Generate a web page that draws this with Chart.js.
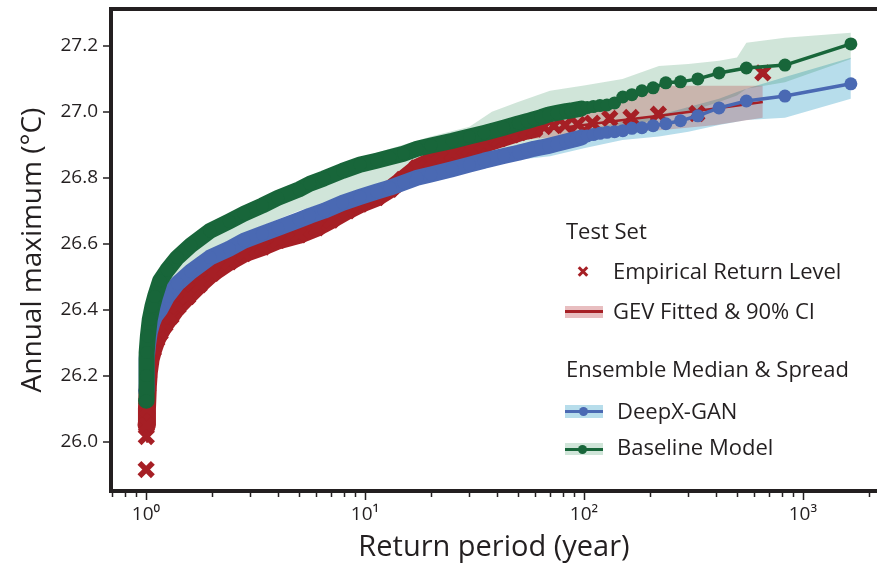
<!DOCTYPE html>
<html>
<head>
<meta charset="utf-8">
<script src="https://cdn.jsdelivr.net/npm/chart.js@4.4.1/dist/chart.umd.min.js"></script>
<style>
  html, body { margin: 0; padding: 0; background: #fff; }
  #wrap { position: relative; width: 877px; height: 570px; overflow: hidden; font-family: "Open Sans", sans-serif; color: #231f20; }
  #chart { position: absolute; left: 0; top: 0; }
  .lg { position: absolute; font-size: 22px; line-height: 22px; white-space: nowrap; }
  .band { position: absolute; left: 565px; width: 38px; }
  .stroke { position: absolute; left: 565px; width: 38px; height: 3px; }
  .dot { position: absolute; width: 9px; height: 9px; border-radius: 50%; }
  .cross { position: absolute; width: 12px; height: 3px; background: #a61f25; }
</style>
</head>
<body>
<div id="wrap">
  <canvas id="chart" width="877" height="570"></canvas>

  <div class="lg" style="left:566px; top:219px;">Test Set</div>
  <div class="cross" style="left:577px; top:270px; transform: rotate(45deg);"></div>
  <div class="cross" style="left:577px; top:270px; transform: rotate(-45deg);"></div>
  <div class="lg" style="left:613px; top:259px;">Empirical Return Level</div>
  <div class="band" style="top:306px; height:12px; background: rgba(180,40,45,0.3);"></div>
  <div class="stroke" style="top:310px; background:#a61f25;"></div>
  <div class="lg" style="left:613px; top:299px;">GEV Fitted &amp; 90% CI</div>

  <div class="lg" style="left:566px; top:357px;">Ensemble Median &amp; Spread</div>
  <div class="band" style="top:405px; height:13px; background: rgba(135,198,222,0.6);"></div>
  <div class="stroke" style="top:410px; background:#4a69b3;"></div>
  <div class="dot" style="left:579px; top:407px; background:#4a69b3;"></div>
  <div class="lg" style="left:617px; top:399px;">DeepX-GAN</div>
  <div class="band" style="top:443px; height:12px; background: rgba(20,125,65,0.2);"></div>
  <div class="stroke" style="top:448px; background:#18663a;"></div>
  <div class="dot" style="left:578px; top:445px; background:#18663a;"></div>
  <div class="lg" style="left:617px; top:435px;">Baseline Model</div>
</div>

<script>
// return periods (years) of the ensemble medians
const modelPeriods = [1.0006, 1.003, 1.01, 1.02, 1.04, 1.07, 1.1, 1.16, 1.25, 1.39, 1.6, 1.96, 2.4, 2.8, 3.4, 4, 5, 5.6, 6.5, 7.9,
  9.5, 11.3, 13, 15, 17.3, 20, 25, 30, 35, 43, 50.2, 55.2, 59.1, 63.7, 69, 75.3, 82.8, 87.2, 92, 97.4,
  103.5, 110.4, 118.3, 127.4, 138, 150.5, 165.6, 184, 207, 236.6, 276, 331.2, 414, 552, 828, 1656];
const baselineMedian = [26.124, 26.20, 26.27, 26.32, 26.37, 26.41, 26.44, 26.488, 26.52, 26.558, 26.595, 26.639, 26.668, 26.691, 26.716, 26.739, 26.765, 26.782, 26.798, 26.821,
  26.840, 26.852, 26.862, 26.873, 26.888, 26.898, 26.912, 26.925, 26.936, 26.952, 26.965, 26.972, 26.978, 26.984, 26.992, 26.997, 27.002, 27.004, 27.007, 27.010,
  27.013, 27.016, 27.019, 27.021, 27.027, 27.045, 27.052, 27.064, 27.073, 27.088, 27.091, 27.100, 27.118, 27.133, 27.142, 27.206];
const deepxMedian = [26.155, 26.20, 26.25, 26.29, 26.33, 26.36, 26.38, 26.40, 26.44, 26.479, 26.515, 26.558, 26.585, 26.609, 26.630, 26.648, 26.672, 26.685, 26.700, 26.724,
  26.742, 26.758, 26.770, 26.785, 26.800, 26.810, 26.826, 26.840, 26.852, 26.866, 26.876, 26.883, 26.888, 26.892, 26.897, 26.903, 26.910, 26.914, 26.918, 26.922,
  26.927, 26.931, 26.935, 26.938, 26.940, 26.943, 26.950, 26.952, 26.958, 26.964, 26.973, 26.988, 27.012, 27.033, 27.048, 27.085];

// ensemble spread
const spreadPeriods = [1.0006, 1.01, 1.03, 1.1, 1.3, 1.6, 2, 3, 5, 10, 20, 30, 38, 50, 70, 100, 150, 220, 300, 414, 500, 552, 828, 1656];
const baselineHigh = [26.14, 26.30, 26.37, 26.47, 26.555, 26.615, 26.66, 26.725, 26.785, 26.865, 26.925, 26.955, 27.0, 27.03, 27.064, 27.08, 27.10, 27.139, 27.145, 27.155, 27.165, 27.21, 27.225, 27.24];
const baselineLow = [26.10, 26.24, 26.31, 26.41, 26.48, 26.54, 26.58, 26.64, 26.70, 26.76, 26.80, 26.83, 26.85, 26.87, 26.90, 26.92, 26.95, 26.98, 27.00, 27.03, 27.05, 27.07, 27.09, 27.16];
const deepxHigh = [26.17, 26.27, 26.35, 26.41, 26.48, 26.535, 26.575, 26.635, 26.69, 26.765, 26.83, 26.86, 26.88, 26.90, 26.92, 26.945, 26.97, 26.99, 27.015, 27.04, 27.06, 27.07, 27.106, 27.164];
const deepxLow = [26.14, 26.23, 26.30, 26.35, 26.43, 26.49, 26.54, 26.60, 26.655, 26.725, 26.79, 26.82, 26.835, 26.855, 26.865, 26.89, 26.915, 26.925, 26.94, 26.96, 26.97, 26.975, 26.982, 27.04];

// test set: empirical return levels
const testPeriods = [1.0015, 1.0031, 1.005, 1.01, 1.02, 1.03, 1.05, 1.08, 1.12, 1.16, 1.22, 1.3, 1.4, 1.55, 1.75, 2, 2.4, 2.8, 3.4, 4,
  5, 6, 7, 8.3, 9.5, 11.3, 13, 14.9, 17.3, 20, 25, 30, 35, 41, 46.9, 50.5, 54.7, 59.6, 65.6, 72.9,
  82, 93.7, 109.3, 131.2, 164, 218.7, 328, 656];
const testEmpirical = [25.915, 26.015, 26.05, 26.10, 26.17, 26.21, 26.25, 26.28, 26.31, 26.33, 26.355, 26.38, 26.41, 26.44, 26.475, 26.51, 26.545, 26.57, 26.59, 26.61,
  26.627, 26.648, 26.672, 26.70, 26.72, 26.74, 26.765, 26.795, 26.83, 26.85, 26.875, 26.89, 26.903, 26.918, 26.93, 26.937, 26.943, 26.948, 26.955, 26.958,
  26.96, 26.962, 26.966, 26.98, 26.983, 26.993, 26.995, 27.118];

// GEV fit with 90% confidence interval
const gevPeriods = [1.0015, 1.01, 1.05, 1.2, 1.5, 2, 3, 5, 10, 20, 50, 100, 130, 230, 400, 656];
const gevFit = [26.00, 26.10, 26.25, 26.345, 26.43, 26.51, 26.58, 26.627, 26.73, 26.85, 26.935, 26.96, 26.97, 26.99, 27.01, 27.03];
const gevHigh = [26.01, 26.11, 26.26, 26.355, 26.44, 26.52, 26.59, 26.64, 26.745, 26.865, 26.955, 27.00, 27.018, 27.079, 27.079, 27.079];
const gevLow = [25.99, 26.09, 26.24, 26.335, 26.42, 26.50, 26.57, 26.615, 26.715, 26.835, 26.915, 26.93, 26.935, 26.945, 26.96, 26.982];

// axes
const yTicks = [26.0, 26.2, 26.4, 26.6, 26.8, 27.0, 27.2];
const xMajorTicks = [1, 10, 100, 1000];
const xTickLabels = ['10\u2070', '10\u00b9', '10\u00b2', '10\u00b3'];
const xMin = 0.692, xMax = 2180;
const yMin = 25.85, yMax = 27.312;

const ink = '#231f20';
const green = '#18663a', blue = '#4a69b3', red = '#a61f25';
const font = '"Open Sans", sans-serif';

// above these return periods the markers stop overlapping
const modelDenseUpTo = 100;
const testDenseUpTo = 60;

const xTickValues = [];
[0.1, 1, 10, 100, 1000].forEach(d => {
  for (let m = 1; m < 10; m++) {
    const v = +(m * d).toPrecision(3);
    if (v >= xMin && v <= xMax) xTickValues.push(v);
  }
});

function pairs(xs, ys) {
  return xs.map((x, i) => ({ x: x, y: ys[i] }));
}

function bandEdge(label, xs, ys, color, fill, order) {
  return {
    label: label, data: pairs(xs, ys), fill: fill, backgroundColor: color,
    borderWidth: 0, pointRadius: 0, order: order
  };
}

// axis frame and tick marks (major ticks longer than minor ones)
const axisFrame = {
  id: 'axisFrame',
  afterDraw(chart) {
    const { ctx, chartArea: a, scales: { x, y } } = chart;
    ctx.save();
    ctx.strokeStyle = ink;
    ctx.lineWidth = 1.5;
    ctx.beginPath();
    x.ticks.forEach(t => {
      const px = Math.round(x.getPixelForValue(t.value)) + 0.5;
      const len = t.major ? 7 : 4;
      ctx.moveTo(px, a.bottom);
      ctx.lineTo(px, a.bottom + 2 + len);
    });
    y.ticks.forEach(t => {
      const py = Math.round(y.getPixelForValue(t.value));
      ctx.moveTo(a.left, py);
      ctx.lineTo(a.left - 8, py);
    });
    ctx.stroke();

    // the right edge of the frame falls outside the figure
    ctx.lineWidth = 4;
    ctx.lineJoin = 'miter';
    ctx.beginPath();
    ctx.moveTo(chart.width + 4, a.top);
    ctx.lineTo(a.left, a.top);
    ctx.lineTo(a.left, a.bottom);
    ctx.lineTo(chart.width + 4, a.bottom);
    ctx.stroke();
    ctx.restore();
  }
};

new Chart('chart', {
  type: 'line',
  data: {
    datasets: [
      {
        label: 'Baseline Model',
        data: pairs(modelPeriods, baselineMedian),
        borderColor: green, backgroundColor: green,
        borderWidth: 3, borderCapStyle: 'round', borderJoinStyle: 'round',
        pointRadius: 6.5, pointBorderWidth: 0,
        segment: { borderWidth: ctx => ctx.p1.parsed.x <= modelDenseUpTo ? 16 : 3.5 },
        order: 1
      },
      {
        label: 'DeepX-GAN',
        data: pairs(modelPeriods, deepxMedian),
        borderColor: blue, backgroundColor: blue,
        borderWidth: 3, borderCapStyle: 'round', borderJoinStyle: 'round',
        pointRadius: 6.5, pointBorderWidth: 0,
        segment: { borderWidth: ctx => ctx.p1.parsed.x <= modelDenseUpTo ? 16 : 3.5 },
        order: 2
      },
      {
        label: 'Empirical Return Level',
        data: pairs(testPeriods, testEmpirical),
        borderColor: red, backgroundColor: red,
        borderWidth: 18, borderCapStyle: 'round', borderJoinStyle: 'round',
        pointStyle: 'crossRot', pointRadius: 9.5, pointBorderWidth: 5.5,
        segment: {
          borderColor: ctx => (ctx.p0DataIndex >= 2 && ctx.p1.parsed.x <= testDenseUpTo) ? red : 'rgba(0,0,0,0)'
        },
        order: 3
      },
      {
        label: 'GEV Fitted',
        data: pairs(gevPeriods, gevFit),
        borderColor: red, borderWidth: 2.5, pointRadius: 0,
        order: 4
      },
      bandEdge('GEV CI high', gevPeriods, gevHigh, 'rgba(180,40,45,0.25)', '+1', 5),
      bandEdge('GEV CI low', gevPeriods, gevLow, 'rgba(0,0,0,0)', false, 5),
      bandEdge('Baseline high', spreadPeriods, baselineHigh, 'rgba(20,125,65,0.2)', '+1', 6),
      bandEdge('Baseline low', spreadPeriods, baselineLow, 'rgba(0,0,0,0)', false, 6),
      bandEdge('DeepX high', spreadPeriods, deepxHigh, 'rgba(135,198,222,0.6)', '+1', 7),
      bandEdge('DeepX low', spreadPeriods, deepxLow, 'rgba(0,0,0,0)', false, 7)
    ]
  },
  options: {
    responsive: false,
    devicePixelRatio: 1,
    animation: false,
    layout: { autoPadding: false, padding: { top: 9, right: 0, bottom: 0, left: 0 } },
    plugins: { legend: { display: false }, tooltip: { enabled: false } },
    scales: {
      x: {
        type: 'logarithmic',
        min: xMin, max: xMax,
        afterBuildTicks: s => { s.ticks = xTickValues.map(v => ({ value: v, major: xMajorTicks.includes(v) })); },
        afterFit: s => { s.height = 79; s.paddingLeft = 0; s.paddingRight = 0; },
        grid: { display: false, drawTicks: true, tickLength: 8 },
        border: { display: false },
        ticks: {
          autoSkip: false, maxRotation: 0, padding: 4, color: ink,
          font: { family: font, size: 19 },
          callback: v => {
            const i = xMajorTicks.indexOf(v);
            return i >= 0 ? xTickLabels[i] : '';
          }
        },
        title: {
          display: true, text: 'Return period (year)', color: ink,
          font: { family: font, size: 29 }, padding: { top: 0, bottom: 5 }
        }
      },
      y: {
        min: yMin, max: yMax,
        afterBuildTicks: s => { s.ticks = yTicks.map(v => ({ value: v })); },
        afterFit: s => { s.width = 111; s.paddingTop = 0; s.paddingBottom = 0; },
        grid: { display: false, drawTicks: true, tickLength: 8 },
        border: { display: false },
        ticks: {
          padding: 5, color: ink,
          font: { family: font, size: 19 },
          callback: v => v.toFixed(1)
        },
        title: {
          display: true, text: 'Annual maximum (\u00b0C)', color: ink,
          font: { family: font, size: 28 }, padding: { top: 16 }
        }
      }
    }
  },
  plugins: [axisFrame]
});
</script>
</body>
</html>
